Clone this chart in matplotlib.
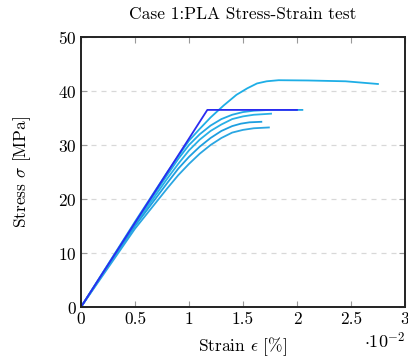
import numpy as np
import matplotlib.pyplot as plt

plt.rcParams['font.family'] = 'serif'
plt.rcParams['font.serif'] = ['cmr10', 'DejaVu Serif']
plt.rcParams['mathtext.fontset'] = 'cm'
plt.rcParams['axes.formatter.use_mathtext'] = True

# strain in units of 1e-2 %, stress in MPa
ideal_strain = [0.0, 1.17, 2.0]
ideal_stress = [0.0, 36.5, 36.5]

samples = [
    ([0.0, 0.5, 0.8, 1.0, 1.1, 1.2, 1.32, 1.44, 1.54, 1.63, 1.72, 1.83, 2.1, 2.45, 2.75],
     [0.0, 15.8, 25.0, 30.8, 33.0, 35.1, 37.3, 39.3, 40.5, 41.4, 41.8, 42.0, 41.95, 41.8, 41.3]),
    ([0.0, 0.5, 0.8, 0.9, 1.0, 1.1, 1.2, 1.3, 1.4, 1.5, 1.6, 1.75, 2.05],
     [0.0, 15.5, 24.5, 27.4, 30.0, 32.0, 33.6, 34.8, 35.6, 36.1, 36.35, 36.5, 36.5]),
    ([0.0, 0.5, 0.8, 0.9, 1.0, 1.1, 1.2, 1.3, 1.4, 1.5, 1.6, 1.76],
     [0.0, 15.3, 23.8, 26.5, 29.0, 31.0, 32.6, 33.8, 34.8, 35.3, 35.6, 35.8]),
    ([0.0, 0.5, 0.8, 0.9, 1.0, 1.1, 1.2, 1.3, 1.4, 1.48, 1.56, 1.67],
     [0.0, 15.0, 23.0, 25.6, 27.8, 29.7, 31.3, 32.6, 33.5, 33.95, 34.2, 34.3]),
    ([0.0, 0.5, 0.8, 0.9, 1.0, 1.1, 1.2, 1.3, 1.4, 1.5, 1.6, 1.74],
     [0.0, 14.5, 22.0, 24.4, 26.5, 28.4, 30.0, 31.3, 32.3, 32.8, 33.1, 33.25]),
]
sample_colors = ['#1eaee6', '#22a8e4', '#28b0e6', '#1e9fe0', '#2aa6e2']

fig = plt.figure(figsize=(4.08, 3.6), dpi=100)
ax = fig.add_axes([0.1985, 0.1472, 0.794, 0.75])

for (s, st), c in zip(samples, sample_colors):
    ax.plot(s, st, color=c, lw=1.3, solid_joinstyle='round')
ax.plot(ideal_strain, ideal_stress, color='#2b2bf0', lw=1.3)

ax.set_xlim(0, 3)
ax.set_ylim(0, 50)
ax.set_xticks(np.arange(0, 3.01, 0.5))
ax.set_xticklabels(['0', '0.5', '1', '1.5', '2', '2.5', '3'])
ax.set_yticks(np.arange(0, 51, 10))
ax.yaxis.grid(True, linestyle=(0, (4, 4)), color='#d8d8d8', lw=0.9)
ax.tick_params(direction='in', top=True, right=True, length=4,
               color='#999999', labelsize=12.5, pad=3)
for sp in ax.spines.values():
    sp.set_linewidth(1.4)
    sp.set_color('#222222')

ax.set_title('Case 1:PLA Stress-Strain test', fontsize=12.5, pad=13)
ax.set_xlabel(r'Strain $\epsilon$ [%]', fontsize=12.5, labelpad=6)
ax.set_ylabel(r'Stress $\sigma$ [MPa]', fontsize=12.5, labelpad=18)
fig.text(0.993, 0.025, r'$\cdot 10^{-2}$', ha='right', va='bottom', fontsize=13)

fig.savefig('out.png', dpi=100)
